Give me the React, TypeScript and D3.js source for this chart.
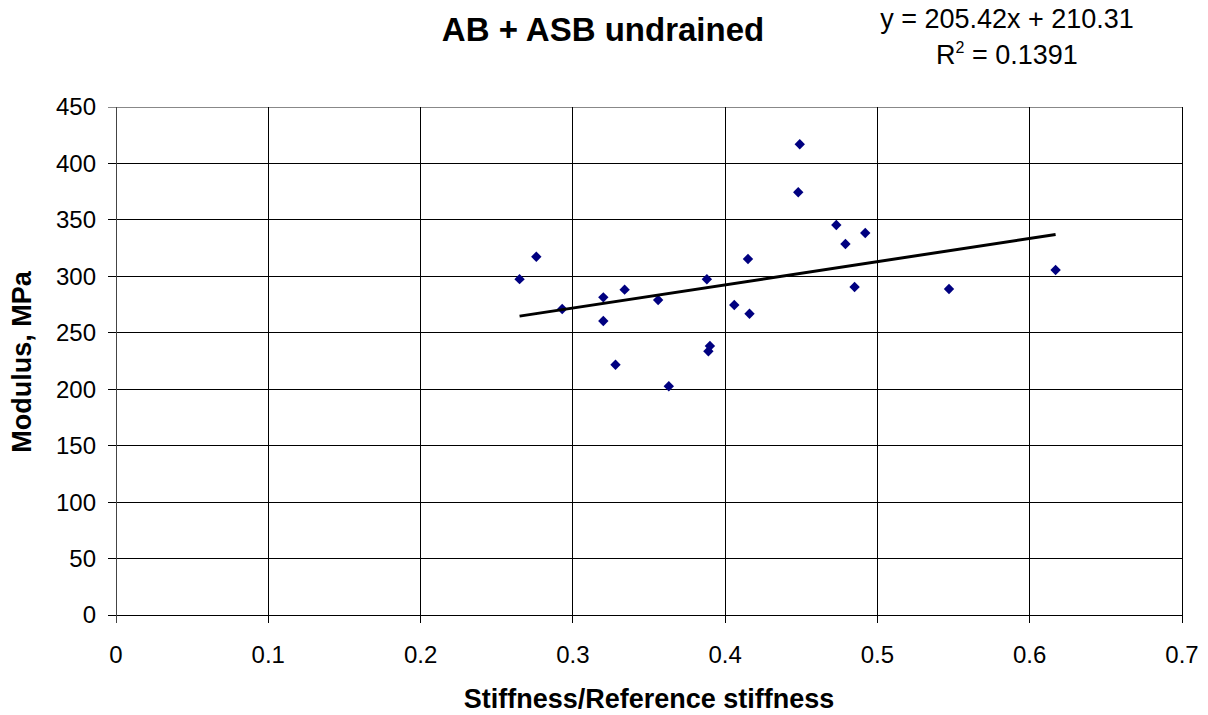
import React from "react";
import * as d3 from "d3";

const stiffnessRatio = [0.265, 0.276, 0.293, 0.320, 0.320, 0.328, 0.334, 0.356, 0.363, 0.388, 0.389, 0.390, 0.406, 0.415, 0.416, 0.448, 0.449, 0.473, 0.479, 0.485, 0.492, 0.547, 0.617];
const modulus = [297.5, 317.4, 271.1, 281.4, 260.4, 221.7, 288.2, 279.0, 202.6, 297.4, 233.6, 238.3, 274.6, 315.4, 266.9, 374.5, 417.0, 345.5, 328.7, 290.6, 338.4, 288.8, 305.6];
const xTicks = [0, 0.1, 0.2, 0.3, 0.4, 0.5, 0.6, 0.7];
const yTicks = [0, 50, 100, 150, 200, 250, 300, 350, 400, 450];
const trendSlope = 205.42;
const trendIntercept = 210.31;
const rSquared = "0.1391";

const W = 1208;
const H = 715;
const FONT = "'Liberation Sans', Arial, sans-serif";

export default function App() {
  const x = d3.scaleLinear().domain([0, 0.7]).range([116, 1182]);
  const y = d3.scaleLinear().domain([0, 450]).range([615, 107]);
  const diamond = d3.symbol(d3.symbolSquare, 54)();
  const [x0, x1] = d3.extent(stiffnessRatio) as [number, number];
  const trend = d3.line<number>()
    .x((v) => x(v))
    .y((v) => y(trendSlope * v + trendIntercept))([x0, x1]);

  return (
    <svg width={W} height={H} style={{ position: "absolute", left: 0, top: 0, background: "#fff" }} fontFamily={FONT}>
      <rect x={0} y={0} width={W} height={H} fill="#fff" />
      <g shapeRendering="crispEdges" stroke="#000" strokeWidth={1}>
        {yTicks.map((t) => (
          <line key={"gy" + t} x1={x(0) - 8} x2={x(0.7)} y1={y(t)} y2={y(t)} stroke={t === 450 ? "#888" : "#000"} />
        ))}
        {xTicks.map((t) => (
          <line key={"gx" + t} x1={x(t)} x2={x(t)} y1={y(450)} y2={y(0) + 8} stroke={t === 0 ? "#444" : "#000"} />
        ))}
      </g>
      {yTicks.map((t) => (
        <text key={"ly" + t} x={96} y={y(t)} dy="0.35em" textAnchor="end" fontSize={24} fill="#000">
          {t}
        </text>
      ))}
      {xTicks.map((t) => (
        <text key={"lx" + t} x={x(t)} y={663} textAnchor="middle" fontSize={24} fill="#000">
          {d3.format("~g")(t)}
        </text>
      ))}
      {stiffnessRatio.map((v, i) => (
        <path key={"p" + i} d={diamond!} transform={`translate(${x(v)},${y(modulus[i])}) rotate(45)`} fill="#000080" />
      ))}
      <path d={trend!} fill="none" stroke="#000" strokeWidth={3} />
      <text x={603} y={41} textAnchor="middle" fontSize={33} fontWeight="bold" fill="#000">
        AB + ASB undrained
      </text>
      <text x={1007} y={28} textAnchor="middle" fontSize={27} fill="#000">
        y = 205.42x + 210.31
      </text>
      <text x={1007} y={64} textAnchor="middle" fontSize={27} fill="#000">
        R<tspan fontSize={16} dy={-11}>2</tspan><tspan dy={11}> = {rSquared}</tspan>
      </text>
      <text x={649} y={708} textAnchor="middle" fontSize={27} fontWeight="bold" fill="#000">
        Stiffness/Reference stiffness
      </text>
      <text transform={`translate(31,362) rotate(-90)`} textAnchor="middle" fontSize={27} fontWeight="bold" fill="#000">
        Modulus, MPa
      </text>
    </svg>
  );
}
